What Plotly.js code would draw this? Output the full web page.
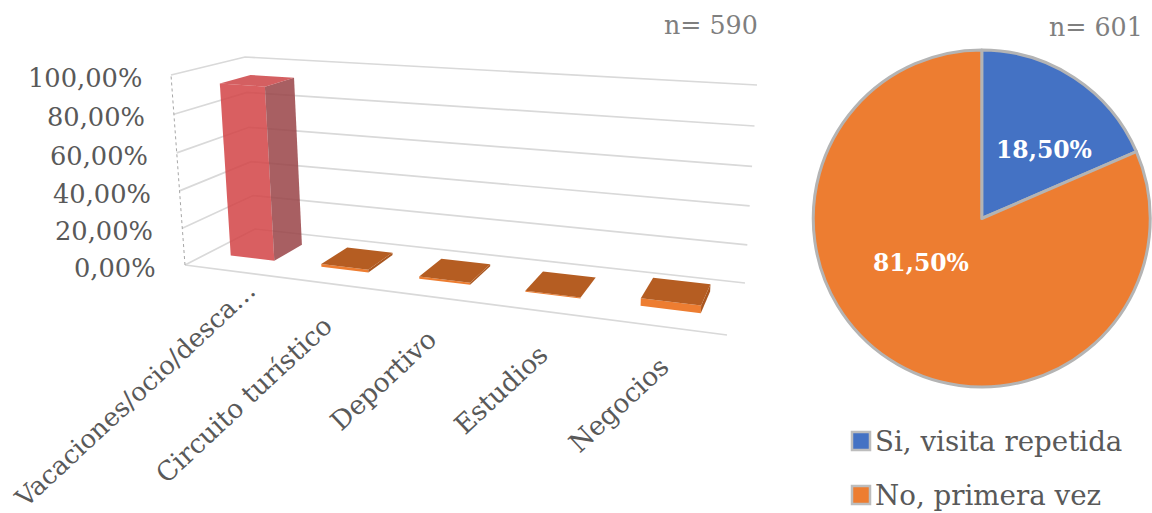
<!DOCTYPE html>
<html lang="es">
<head>
<meta charset="utf-8">
<title>Motivo de viaje y visita repetida</title>
<script src="https://cdn.plot.ly/plotly-3.0.1.min.js"></script>
<style>html,body{margin:0;padding:0;background:#fff}#chart{width:1152px;height:513px}</style>
</head>
<body>
<div id="chart"></div>
<script>
// Trip purpose (share of respondents, %)
const purposeLabels = ["Vacaciones/ocio/desca…", "Circuito turístico", "Deportivo", "Estudios", "Negocios"];
const purposeValues = [93.2, 1.4, 1.1, 0.5, 3.8];
const valueTicks = [0, 20, 40, 60, 80, 100];
const valueTickLabels = ["0,00%", "20,00%", "40,00%", "60,00%", "80,00%", "100,00%"];

// Repeat visit split (%)
const visitLabels = ["Si, visita repetida", "No, primera vez"];
const visitValues = [18.5, 81.5];
const visitColors = ["#4472C4", "#ED7D31"];

const sampleLeft = "n= 590";
const sampleRight = "n= 601";

const serif = '"DejaVu Serif", serif';
const textGrey = "#595959";
const gridGrey = "#D9D9D9";

// Screen position of the eight corners of the 3D plot box, keyed by [category, depth, value].
const boxCorners = {
  "000": [185, 265], "100": [727, 335], "010": [255, 229], "110": [745, 283],
  "001": [171, 75],  "101": [738, 116], "011": [245, 57],  "111": [757, 85]
};
const perspective = { a: -0.19, b: 0.113, c: -0.04 };

// Rational trilinear projection: axis-aligned lines stay straight and foreshorten with depth.
function project(u, v, w) {
  let sx = 0, sy = 0, sd = 0;
  for (const i of [0, 1]) for (const j of [0, 1]) for (const k of [0, 1]) {
    const blend = (i ? u : 1 - u) * (j ? v : 1 - v) * (k ? w : 1 - w);
    const d = blend * (1 + perspective.a * i + perspective.b * j + perspective.c * k);
    const p = boxCorners["" + i + j + k];
    sx += d * p[0]; sy += d * p[1]; sd += d;
  }
  return [sx / sd, sy / sd];
}

function polyline(points, line) {
  const xy = points.map(p => project(p[0], p[1], p[2]));
  return { type: "scatter", mode: "lines", x: xy.map(p => p[0]), y: xy.map(p => p[1]),
           line, hoverinfo: "skip", showlegend: false, xaxis: "x", yaxis: "y" };
}
function face(points, color) {
  const xy = points.concat([points[0]]).map(p => project(p[0], p[1], p[2]));
  return { type: "scatter", mode: "lines", x: xy.map(p => p[0]), y: xy.map(p => p[1]),
           fill: "toself", fillcolor: color, line: { width: 0, color: color },
           hoverinfo: "skip", showlegend: false, xaxis: "x", yaxis: "y" };
}

const traces = [];

// Gridlines on the left and back walls
valueTicks.forEach(t => {
  const w = t / 100;
  traces.push(polyline([[0, 0, w], [0, 1, w], [1, 1, w]], { color: gridGrey, width: 1.7 }));
});
// Floor front edge and the dotted value axis
traces.push(polyline([[0, 0, 0], [1, 0, 0]], { color: gridGrey, width: 1.7 }));
traces.push(polyline([[0, 0, 0], [0, 0, 1]], { color: "#A6A6A6", width: 1, dash: "dot" }));

// Bars
const catStep = 1 / purposeValues.length;
const barWidth = 0.098;
const depthFrom = 0.315, depthTo = 0.745;
const barPalette = [
  { front: "rgba(210,67,69,0.85)", side: "rgba(153,67,70,0.85)", top: "rgba(205,67,69,0.85)" },
  { front: "#ED7D31", side: "#A9561F", top: "#B55D22" }
];
purposeValues.forEach((val, i) => {
  const c = barPalette[i === 0 ? 0 : 1];
  const mid = (i + 0.5) * catStep;
  const u0 = mid - barWidth / 2, u1 = mid + barWidth / 2, h = val / 100;
  traces.push(face([[u0, depthFrom, 0], [u1, depthFrom, 0], [u1, depthFrom, h], [u0, depthFrom, h]], c.front));
  traces.push(face([[u1, depthFrom, 0], [u1, depthTo, 0], [u1, depthTo, h], [u1, depthFrom, h]], c.side));
  traces.push(face([[u0, depthFrom, h], [u1, depthFrom, h], [u1, depthTo, h], [u0, depthTo, h]], c.top));
});

// Pie of first-time against repeat visits
traces.push({
  type: "pie", labels: visitLabels, values: visitValues, sort: false, direction: "clockwise", rotation: 0,
  marker: { colors: visitColors, line: { color: "#B4B4B4", width: 3 } },
  textinfo: "none", hoverinfo: "label+percent", showlegend: false,
  domain: { x: [812.5 / 1152, 1151 / 1152], y: [1 - 387 / 513, 1 - 50 / 513] }
});

// Legend keys for the pie
traces.push({
  type: "scatter", mode: "markers", x: [861, 861], y: [441, 495],
  marker: { symbol: "square", size: 18, color: visitColors, line: { color: "#BDBDBD", width: 2.5 } },
  hoverinfo: "skip", showlegend: false, xaxis: "x", yaxis: "y"
});

const annotations = [];
function note(text, x, y, extra) {
  annotations.push(Object.assign({ text, x, y, xref: "x", yref: "y", showarrow: false,
    font: { family: serif, size: 25.7, color: textGrey } }, extra));
}

// Value axis labels
valueTicks.forEach((t, i) => {
  const p = project(0, 0, t / 100);
  note(valueTickLabels[i], p[0], p[1], { xanchor: "right", yanchor: "middle", xshift: -27, yshift: -3 });
});

// Slanted category labels, right ends hanging off the floor edge
const labelShift = [[35, 1], [16, 24], [18, 24], [17, 25], [16, 21]];
const labelSizes = [25.8, 26.5, 26.5, 26.5, 26.5];
purposeLabels.forEach((label, i) => {
  const p = project((i + 0.5) * catStep, 0, 0);
  note(label, p[0] + labelShift[i][0], p[1] + labelShift[i][1],
       { xanchor: "right", yanchor: "top", textangle: -43, font: { family: serif, size: labelSizes[i], color: textGrey } });
});

// Sample sizes
note(sampleLeft, 760, 25, { xanchor: "right", yanchor: "middle", font: { family: serif, size: 25.3, color: "#7F7F7F" } });
note(sampleRight, 1145, 27, { xanchor: "right", yanchor: "middle", font: { family: serif, size: 25.3, color: "#7F7F7F" } });

// Pie value labels
const pct = v => v.toFixed(2).replace(".", ",") + "%";
[[1044, 150], [921, 263]].forEach((pos, i) => {
  note(pct(visitValues[i]), pos[0], pos[1], { xanchor: "center", yanchor: "middle",
       font: { family: serif, size: 23.5, color: "#FFFFFF", weight: 700 } });
});

// Legend text
[441, 495].forEach((y, i) => {
  note(visitLabels[i], 873, y, { xanchor: "left", yanchor: "middle", font: { family: serif, size: 27.7, color: textGrey } });
});

const hiddenAxis = { visible: false, showgrid: false, zeroline: false, fixedrange: true };
const layout = {
  width: 1152, height: 513, margin: { l: 0, r: 0, t: 0, b: 0 },
  paper_bgcolor: "#FFFFFF", plot_bgcolor: "rgba(0,0,0,0)", showlegend: false, separators: ", ",
  xaxis: Object.assign({ range: [0, 1152], domain: [0, 1] }, hiddenAxis),
  yaxis: Object.assign({ range: [513, 0], domain: [0, 1] }, hiddenAxis),
  annotations
};
Plotly.newPlot("chart", traces, layout, { displayModeBar: false, staticPlot: true });
</script>
</body>
</html>
